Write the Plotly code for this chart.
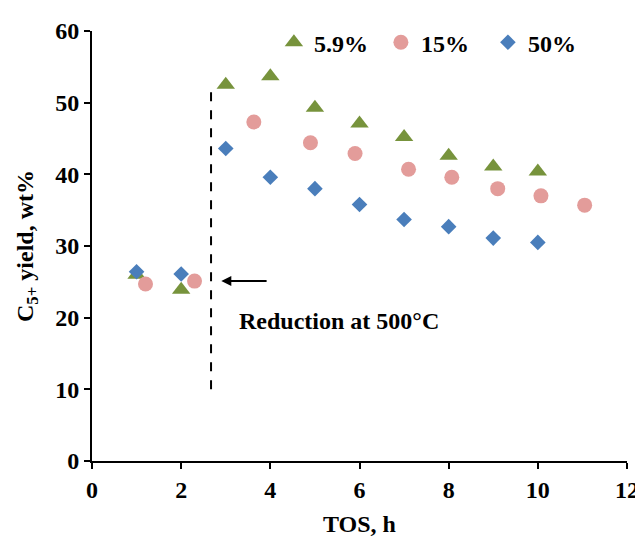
import plotly.graph_objects as go

# Data
tos_59 = [1, 2, 3, 4, 5, 6, 7, 8, 9, 10]
yield_59 = [26.0, 23.9, 52.5, 53.7, 49.3, 47.1, 45.2, 42.6, 41.1, 40.4]

tos_15 = [1.2, 2.3, 3.63, 4.9, 5.9, 7.1, 8.07, 9.1, 10.07, 11.05]
yield_15 = [24.7, 25.1, 47.3, 44.4, 42.9, 40.7, 39.6, 38.0, 37.0, 35.7]

tos_50 = [1, 2, 3, 4, 5, 6, 7, 8, 9, 10]
yield_50 = [26.4, 26.1, 43.6, 39.6, 38.0, 35.8, 33.7, 32.7, 31.1, 30.5]

x_ticks = [0, 2, 4, 6, 8, 10, 12]
y_ticks = [0, 10, 20, 30, 40, 50, 60]

reduction_x = 2.67
reduction_y = [10, 52]

FONT = "Liberation Serif, Times New Roman, serif"

fig = go.Figure()
fig.add_trace(go.Scatter(x=tos_59, y=yield_59, mode="markers", name="<b>5.9%</b>",
                         marker=dict(symbol="triangle-up", size=16, color="#77933C")))
fig.add_trace(go.Scatter(x=tos_15, y=yield_15, mode="markers", name="<b>15%</b>",
                         marker=dict(symbol="circle", size=15, color="#E39C9A")))
fig.add_trace(go.Scatter(x=tos_50, y=yield_50, mode="markers", name="<b>50%</b>",
                         marker=dict(symbol="diamond", size=12, color="#4A7EBB")))

fig.add_trace(go.Scatter(x=[reduction_x, reduction_x], y=reduction_y, mode="lines",
                         line=dict(color="black", width=2, dash="dash"),
                         showlegend=False, hoverinfo="skip"))

fig.add_annotation(x=2.9, y=25.1, ax=3.95, ay=25.1, xref="x", yref="y",
                   axref="x", ayref="y", showarrow=True, arrowhead=2,
                   arrowsize=1, arrowwidth=2, arrowcolor="black", text="")
fig.add_annotation(x=5.55, y=19.5, xref="x", yref="y", showarrow=False,
                   text="<b>Reduction at 500°C</b>",
                   font=dict(family=FONT, size=24, color="black"))

fig.update_layout(
    width=635, height=529,
    margin=dict(l=84, r=16, t=14, b=76),
    paper_bgcolor="white", plot_bgcolor="white",
    font=dict(family=FONT, size=24, color="black"),
    legend=dict(orientation="h", x=0.34, y=0.973, xanchor="left", yanchor="middle",
                font=dict(family=FONT, size=24, color="black"),
                bgcolor="rgba(0,0,0,0)", itemwidth=30, entrywidth=62,
                entrywidthmode="pixels"),
    xaxis=dict(range=[0, 12], tickvals=x_ticks, ticktext=[f"<b>{t}</b>" for t in x_ticks],
               showgrid=False, zeroline=False, showline=True, linecolor="black", linewidth=2,
               ticks="outside", ticklen=6, tickwidth=2, tickcolor="black", automargin=False,
               tickfont=dict(family=FONT, size=24),
               title=dict(text="<b>TOS, h</b>", font=dict(family=FONT, size=24))),
    yaxis=dict(range=[0, 60], tickvals=y_ticks, ticktext=[f"<b>{t}</b>" for t in y_ticks],
               showgrid=False, zeroline=False, showline=True, linecolor="black", linewidth=2,
               ticks="outside", ticklen=6, tickwidth=2, tickcolor="black", automargin=False,
               tickfont=dict(family=FONT, size=24),
               title=dict(text="<b>C<sub>5+</sub> yield, wt%</b>", font=dict(family=FONT, size=24))),
)

fig.write_html("out.html")
